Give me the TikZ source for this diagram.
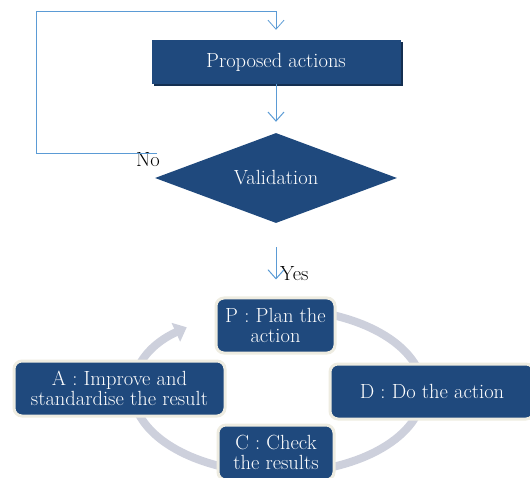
\documentclass[tikz,border=0pt]{standalone}
\usepackage{fontspec}
\usepackage{tikz}
\usetikzlibrary{shapes.geometric,arrows.meta,shadows}
\definecolor{darkblue}{RGB}{31,73,125}
\definecolor{lineblue}{RGB}{91,155,213}
\definecolor{ringgray}{RGB}{205,208,220}
\definecolor{cream}{RGB}{238,236,225}

\begin{document}
\begin{tikzpicture}
[
  x=1pt, y=1pt,
  font=\fontsize{20.5}{20}\selectfont,
  box/.style={fill=darkblue, text=white, minimum width=249pt, minimum height=44pt, inner sep=0pt,
    drop shadow={shadow xshift=2.5pt, shadow yshift=-2.5pt, fill=darkblue!65!black, opacity=1}},
  decision/.style={diamond, aspect=2.7, fill=darkblue, text=white, minimum width=242pt, minimum height=90pt, inner sep=0pt},
  phase/.style={rounded corners=8pt, draw=cream, line width=3pt, fill=darkblue, text=white, align=center, minimum height=55pt, inner sep=0pt},
  link/.style={lineblue, line width=1pt, -{Straight Barb[length=9pt,width=16pt]}},
  ring/.style={ringgray, line width=8pt, -{Triangle[length=12pt,width=20pt]}}
]

\useasboundingbox (0,0) rectangle (530,477);

\coordinate (hub) at (278,86);
\draw[ring] (hub) ++(110:145 and 82) arc[start angle=110, end angle=-231, x radius=145, y radius=82];

\node[box] (pa) at (276,415) {Proposed actions};
\node[decision] (val) at (276,299) {Validation};

\node[phase, minimum width=119pt] (plan) at (275.5,151.5) {P : Plan the\\action};
\node[phase, minimum width=204pt] (do) at (432,85.5) {D : Do the action};
\node[phase, minimum width=116pt] (check) at (276,24.5) {C : Check\\the results};
\node[phase, minimum width=211pt] (act) at (119.5,88.5) {A : Improve and\\standardise the result};

\node (no) at (148,317) {No};
\node[anchor=west, inner sep=1pt] (yes) at (279,203) {Yes};
\coordinate (noend) at (157,324);

\draw[link, shorten >=11pt] (pa.south) -- (val.north);
\draw[link, line width=0.8pt, shorten >=10pt] (noend) -| (36,466) -| (pa.north);
\draw[link, shorten <=24pt, shorten >=17pt] (val.south) -- (val.south |- plan.north);

\end{tikzpicture}
\end{document}
